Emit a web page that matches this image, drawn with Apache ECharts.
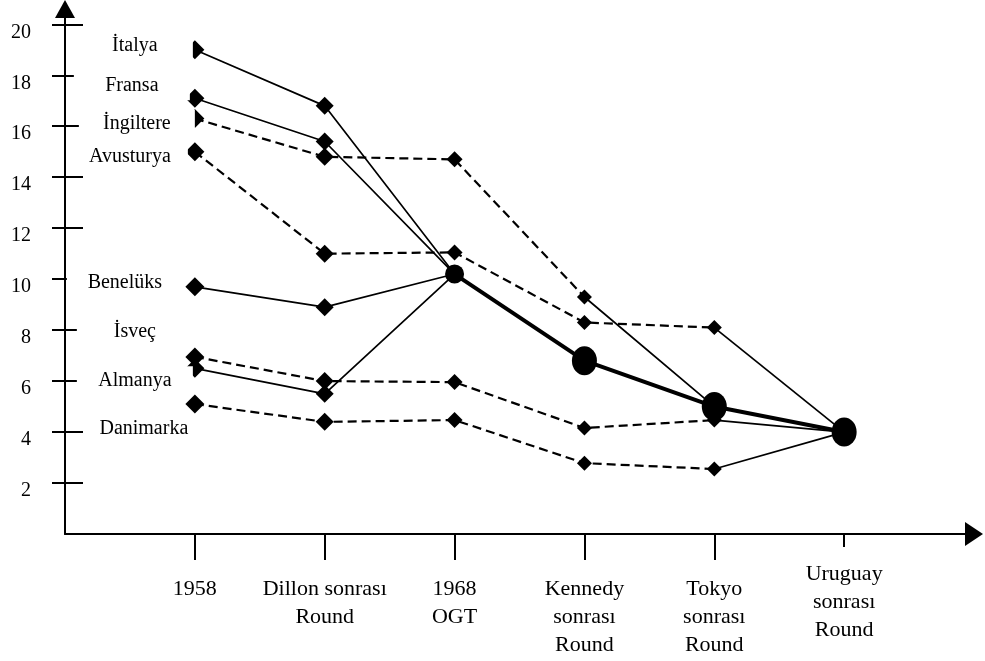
<!DOCTYPE html>
<html><head><meta charset="utf-8">
<script src="https://cdn.jsdelivr.net/npm/echarts@6/dist/echarts.min.js"></script>
<style>html,body{margin:0;padding:0;background:#fff}#c{width:985px;height:661px}</style>
</head><body><div id="c"></div>
<script>
// ---- data ----
const categories = ['1958', 'Dillon sonrası\nRound', '1968\nOGT', 'Kennedy\nsonrası\nRound', 'Tokyo\nsonrası\nRound', 'Uruguay\nsonrası\nRound'];
const yTicks = [2, 4, 6, 8, 10, 12, 14, 16, 18, 20];
const italya    = [19.0, 16.8, 10.2, 6.8, 5.0, 4.0];
const fransa    = [17.1, 15.4, 10.2, 6.8, 5.0, 4.0];
const ingiltere = [16.3, 14.8, 14.7, 9.3, 5.0, 4.0];
const avusturya = [15.0, 11.0, 11.05, 8.3, 8.1, 4.0];
const benelux   = [9.7, 8.9, 10.2, 6.8, 5.0, 4.0];
const isvec     = [6.95, 6.0, 5.96, 4.16, 4.47, 4.0];
const almanya   = [6.5, 5.5, 10.2, 6.8, 5.0, 4.0];
const danimarka = [5.1, 4.4, 4.47, 2.78, 2.55, 4.0];
const ogt       = [null, null, 10.2, 6.8, 5.0, 4.0];

// ---- styling config ----
const FONT = 'Liberation Serif';
const countries = [
  {name: 'İtalya',    v: italya,    seg: 'sssss', marks: [0, 1],          off: [-60, -4]},
  {name: 'Fransa',    v: fransa,    seg: 'sssss', marks: [0, 1],          off: [-63, -12]},
  {name: 'İngiltere', v: ingiltere, seg: 'dddss', marks: [0, 1, 2, 3],    off: [-58, 5]},
  {name: 'Avusturya', v: avusturya, seg: 'dddds', marks: [0, 1, 2, 3, 4], off: [-65, 5]},
  {name: 'Benelüks',  v: benelux,   seg: 'sssss', marks: [0, 1],          off: [-70, -4]},
  {name: 'İsveç',     v: isvec,     seg: 'dddds', marks: [0, 1, 2, 3, 4], off: [-60, -25]},
  {name: 'Almanya',   v: almanya,   seg: 'sssss', marks: [0, 1],          off: [-60, 12]},
  {name: 'Danimarka', v: danimarka, seg: 'dddds', marks: [0, 1, 2, 3, 4], off: [-51, 25]}
];
const markSize = [19, 18, 16, 15, 15, 15];

const series = [];
countries.forEach(c => {
  const runs = [];
  let cur = null;
  for (let i = 0; i < c.v.length - 1; i++) {
    const st = c.seg[i];
    if (!cur || cur.st !== st) { cur = {st, pts: [[i, c.v[i]]]}; runs.push(cur); }
    cur.pts.push([i + 1, c.v[i + 1]]);
  }
  runs.forEach(r => {
    series.push({
      type: 'line', name: c.name, data: r.pts, showSymbol: false, silent: true, z: 2,
      lineStyle: r.st === 'd' ? {color: '#000', width: 2.2, type: [9, 5]} : {color: '#000', width: 1.7}
    });
  });
  series.push({
    type: 'scatter', name: c.name, symbol: 'diamond', z: 4, silent: true,
    itemStyle: {color: '#000', opacity: 1},
    data: c.marks.map(i => {
      const d = {value: [i, c.v[i]], symbolSize: markSize[i]};
      if (i === 0) {
        d.label = {
          show: true, formatter: c.name, position: 'inside', offset: c.off,
          fontFamily: FONT, fontSize: 20, color: '#000', opacity: 1, backgroundColor: '#fff',
          width: 116, height: 28, lineHeight: 28, align: 'center', verticalAlign: 'middle'
        };
      }
      return d;
    })
  });
});
// common external tariff path (thick line, round markers)
series.push({
  type: 'line', name: 'OGT', z: 5, silent: true,
  data: ogt.map((v, i) => [i, v]).filter(p => p[1] !== null),
  symbol: 'circle', showSymbol: true,
  symbolSize: (val, p) => (p.dataIndex === 0 ? [19, 19] : [25, 29]),
  itemStyle: {color: '#000', opacity: 1},
  lineStyle: {color: '#000', width: 4}
});

const axisText = {fontFamily: FONT, color: '#000'};
const option = {
  animation: false,
  backgroundColor: '#fff',
  grid: {left: 65, right: 11, top: 9, bottom: 127, containLabel: false, outerBoundsMode: 'none'},
  xAxis: [
    {
      type: 'value', min: -1, max: 6, position: 'bottom',
      axisLine: {show: true, onZero: false, symbol: ['none', 'triangle'], symbolSize: [24, 18], lineStyle: {color: '#000', width: 2}},
      axisTick: {show: true, customValues: [0, 1, 2, 3, 4], length: 26, lineStyle: {color: '#000', width: 2}},
      axisLabel: Object.assign({show: true, customValues: [0, 1, 2, 3, 4], formatter: v => categories[Math.round(v)], margin: 41, fontSize: 22, lineHeight: 28, align: 'center'}, axisText),
      splitLine: {show: false}
    },
    {
      type: 'value', min: -1, max: 6, position: 'bottom', offset: 0,
      axisLine: {show: false, onZero: false},
      axisTick: {show: true, customValues: [5], length: 13, lineStyle: {color: '#000', width: 2}},
      axisLabel: Object.assign({show: true, customValues: [5], formatter: v => categories[Math.round(v)], margin: 26, fontSize: 22, lineHeight: 28, align: 'center'}, axisText),
      splitLine: {show: false}
    }
  ],
  yAxis: [
    {
      type: 'value', min: 0, max: 20.6, position: 'left',
      axisLine: {show: true, onZero: false, symbol: ['none', 'triangle'], symbolSize: [20, 18], lineStyle: {color: '#000', width: 2}},
      axisTick: {show: true, customValues: yTicks, length: 13, lineStyle: {color: '#000', width: 2}},
      axisLabel: Object.assign({show: true, customValues: yTicks, margin: 34, fontSize: 20, lineHeight: 16, verticalAlign: 'top'}, axisText),
      splitLine: {show: false}
    },
    {
      type: 'value', min: 0, max: 20.6, position: 'left', offset: 0,
      axisLine: {show: false, onZero: false},
      axisTick: {show: true, inside: true, customValues: yTicks, length: 18, lineStyle: {color: '#000', width: 2}},
      axisLabel: {show: false},
      splitLine: {show: false}
    }
  ],
  series: series
};
echarts.init(document.getElementById('c')).setOption(option);
</script>
</body></html>
